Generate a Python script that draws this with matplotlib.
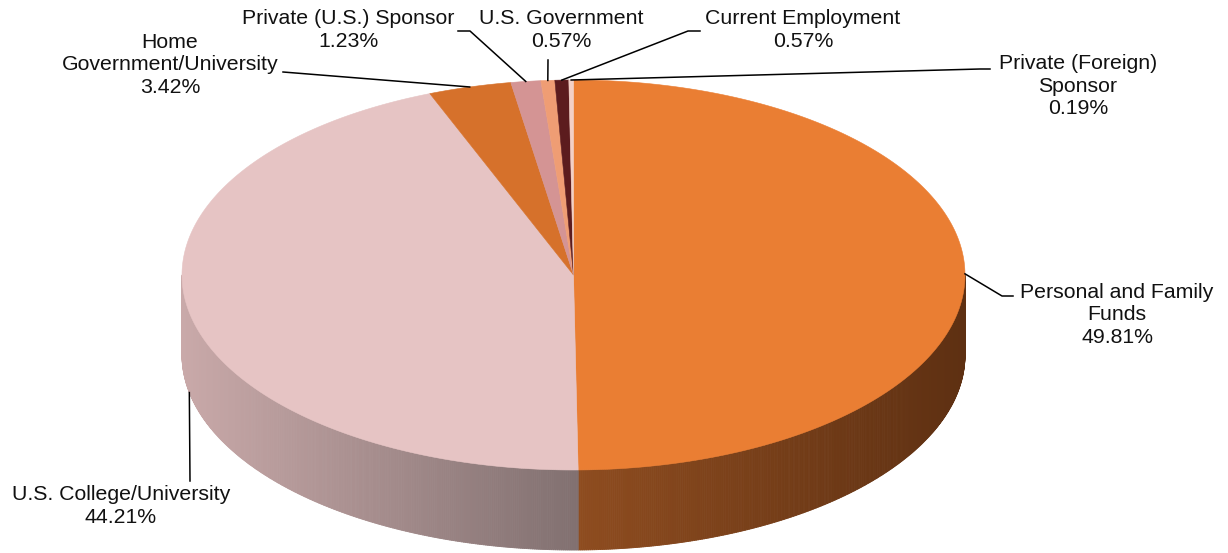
import numpy as np
import matplotlib.pyplot as plt
from matplotlib.patches import Polygon
from matplotlib.collections import PolyCollection
from matplotlib.colors import to_rgb

plt.rcParams['font.family'] = ['Liberation Sans', 'DejaVu Sans']

# data: share of funding sources (%), drawn clockwise from 12 o'clock
labels = ['Personal and Family\nFunds', 'U.S. College/University', 'Home\nGovernment/University',
          'Private (U.S.) Sponsor', 'U.S. Government', 'Current Employment',
          'Private (Foreign)\nSponsor']
shares = [49.81, 44.21, 3.42, 1.23, 0.57, 0.57, 0.19]

top_colors = ['#EA7E33', '#E6C4C4', '#D6712B', '#D49494', '#EF9D74', '#5C1C1E', '#F3D0C6']
side_light = ['#8E4C1F', '#C9A9A9', '#8A4820', '#A07070', '#B07050', '#401010', '#B09890']
side_dark = ['#5E3012', '#817070', '#5A3014', '#705050', '#805040', '#301010', '#807068']

# label text centres (px) and leader elbow points (px)
label_pos = [(1117, 315), (121, 506), (170, 65), (348, 30), (561, 30), (803, 30), (1078, 86)]
elbows = [[(1013, 296), (1002, 296)],
          [(190, 481)],
          [(283, 72)],
          [(458, 31), (470, 31)],
          [(548, 60)],
          [(700, 31), (688, 31)],
          [(990, 69), (980, 69)]]

# pie geometry in pixels
cx, cy, a, b, depth = 573.5, 275, 391.5, 195, 80

def rim(theta, drop=0.0):
    t = np.radians(theta)
    return cx + a * np.sin(t), cy - b * np.cos(t) + drop

fig = plt.figure(figsize=(12.28, 5.53), dpi=100)
ax = fig.add_axes([0, 0, 1, 1])
ax.set_xlim(0, 1228)
ax.set_ylim(553, 0)
ax.axis('off')

bounds = np.concatenate([[0], np.cumsum(shares)]) / sum(shares) * 360

for i in range(len(shares)):
    s, e = bounds[i], bounds[i + 1]

    # side wall (only front half visible)
    vs, ve = max(s, 90), min(e, 270)
    if ve > vs:
        th = np.linspace(vs, ve, 300)
        xs, ys = rim(th)
        xmin, xmax = xs.min(), xs.max()
        quads, cols = [], []
        lo, hi = np.array(to_rgb(side_light[i])), np.array(to_rgb(side_dark[i]))
        for j in range(len(th) - 1):
            x0, y0 = rim(th[j])
            x1, y1 = rim(th[j + 1])
            quads.append([(x0, y0), (x1, y1), (x1, y1 + depth), (x0, y0 + depth)])
            f = ((x0 + x1) / 2 - xmin) / (xmax - xmin)
            cols.append(lo * (1 - f) + hi * f)
        ax.add_collection(PolyCollection(quads, facecolors=cols, edgecolors=cols,
                                         linewidths=0.6, zorder=1))

    # top face
    th = np.linspace(s, e, max(int((e - s) * 3), 4))
    xs, ys = rim(th)
    pts = [(cx, cy)] + list(zip(xs, ys))
    ax.add_patch(Polygon(pts, closed=True, facecolor=top_colors[i],
                         edgecolor=top_colors[i], linewidth=0.4, zorder=2))

    # label and leader line
    mid = (s + e) / 2
    front = 90 < mid < 270
    anchor = rim(mid, depth if front else 0)
    path = elbows[i] + [anchor]
    ax.plot([p[0] for p in path], [p[1] for p in path], color='black', lw=1.1, zorder=3)
    ax.text(label_pos[i][0], label_pos[i][1], f'{labels[i]}\n{shares[i]:.2f}%',
            ha='center', va='center', ma='center', fontsize=15.3, linespacing=1.25,
            color='#111111')

fig.savefig('out.png', dpi=100)
